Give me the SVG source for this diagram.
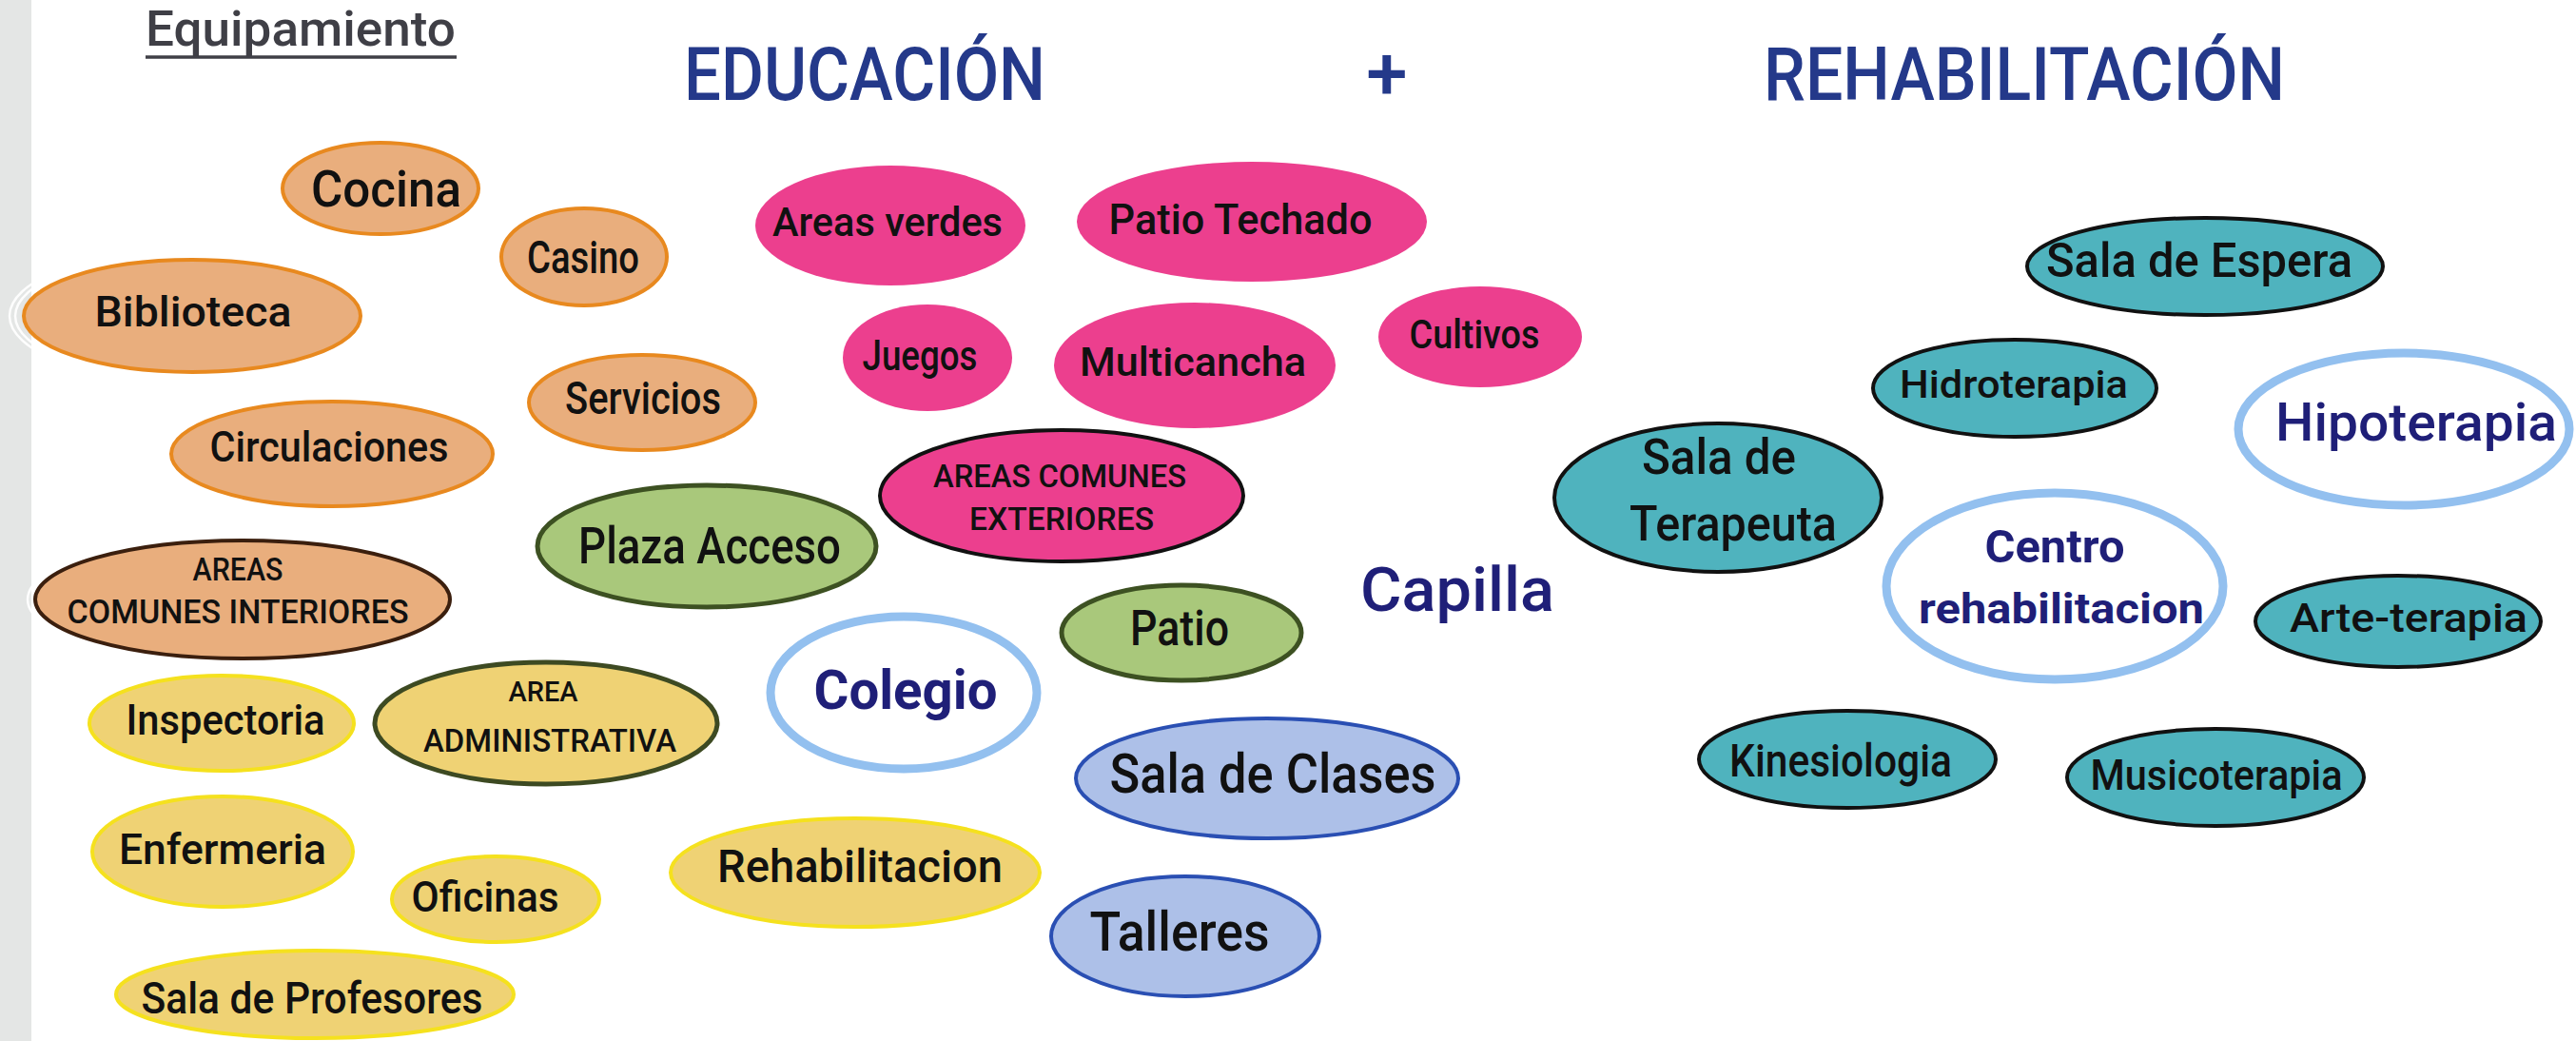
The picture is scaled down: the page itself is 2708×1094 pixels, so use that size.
<svg xmlns="http://www.w3.org/2000/svg" width="2708" height="1094" viewBox="0 0 2708 1094">
<style>
.orange{fill:#e9ae7d;stroke:#e8891f;stroke-width:4}
.orangeDk{fill:#e9ae7d;stroke:#3b1f0e;stroke-width:4}
.pink{fill:#ec3f8e}
.pinkDk{fill:#ec3f8e;stroke:#111;stroke-width:4}
.green{fill:#a9c87b;stroke:#3d5122;stroke-width:5}
.yellow{fill:#efd274;stroke:#f5e11e;stroke-width:4}
.yellowDk{fill:#efd274;stroke:#3d4a22;stroke-width:5}
.blue{fill:#adc0e8;stroke:#2a4fb3;stroke-width:4}
.teal{fill:#4fb3be;stroke:#111;stroke-width:4}
.ring{fill:#fff;stroke:#93c0ef;stroke-width:9}
.halo{fill:none;stroke:#ffffff;stroke-width:2.5;opacity:0.9}
.lbl{font-family:Roboto,"Liberation Sans",sans-serif;font-weight:500;fill:#111;text-anchor:middle}
.navy{fill:#1f1f78;font-weight:700}
.navyN{fill:#1f1f78;font-weight:500}
.title{font-family:Roboto,"Liberation Sans",sans-serif;font-weight:500;fill:#24398a;text-anchor:middle}
</style>
<defs>
<clipPath id="barClip"><rect x="0" y="0" width="33" height="1094"/></clipPath>
</defs>
<rect x="0" y="0" width="2708" height="1094" fill="#ffffff"/>
<rect x="0" y="0" width="33" height="1094" fill="#e4e6e5"/>
<g clip-path="url(#barClip)">
<ellipse class="halo" cx="202" cy="332" rx="186" ry="66"/>
<ellipse class="halo" cx="202" cy="332" rx="192" ry="70"/>
<ellipse class="halo" cx="255" cy="630" rx="226" ry="68"/>
</g>

<g id="header">
<text class="lbl" x="316" y="48" font-size="52" textLength="326" lengthAdjust="spacingAndGlyphs" style="fill:#3f3f46;font-weight:500">Equipamiento</text>
<line x1="153" y1="60" x2="480" y2="60" stroke="#3f3f46" stroke-width="3.5"/>
<text class="title" x="909" y="105" font-size="77" textLength="380" lengthAdjust="spacingAndGlyphs">EDUCACIÓN</text>
<text class="title" x="1458" y="104" font-size="78">+</text>
<text class="title" x="2128" y="105" font-size="77" textLength="548" lengthAdjust="spacingAndGlyphs">REHABILITACIÓN</text>
</g>

<g id="connectors"></g>

<g id="cocina"><ellipse class="orange" cx="400" cy="198" rx="103" ry="48"/><text class="lbl" x="406" y="217" font-size="54" textLength="158" lengthAdjust="spacingAndGlyphs">Cocina</text></g>
<g id="casino"><ellipse class="orange" cx="614" cy="270" rx="87" ry="51"/><text class="lbl" x="613" y="287" font-size="49" textLength="118" lengthAdjust="spacingAndGlyphs">Casino</text></g>
<g id="biblioteca"><ellipse class="orange" cx="202" cy="332" rx="177" ry="59"/><text class="lbl" x="203" y="343" font-size="44" textLength="207" lengthAdjust="spacingAndGlyphs">Biblioteca</text></g>
<g id="servicios"><ellipse class="orange" cx="675" cy="423" rx="119" ry="50"/><text class="lbl" x="676" y="435" font-size="49" textLength="164" lengthAdjust="spacingAndGlyphs">Servicios</text></g>
<g id="circulaciones"><ellipse class="orange" cx="349" cy="477" rx="169" ry="55"/><text class="lbl" x="346" y="485" font-size="45" textLength="251" lengthAdjust="spacingAndGlyphs">Circulaciones</text></g>
<g id="plaza-acceso"><ellipse class="green" cx="743" cy="574" rx="178" ry="64"/><text class="lbl" x="746" y="592" font-size="54" textLength="276" lengthAdjust="spacingAndGlyphs">Plaza Acceso</text></g>
<g id="areas-comunes-interiores"><ellipse class="orangeDk" cx="255" cy="630" rx="218" ry="62"/><text class="lbl" x="250" y="610" font-size="33" textLength="95" lengthAdjust="spacingAndGlyphs">AREAS</text><text class="lbl" x="250" y="655" font-size="35" textLength="359" lengthAdjust="spacingAndGlyphs">COMUNES INTERIORES</text></g>
<g id="inspectoria"><ellipse class="yellow" cx="233" cy="760" rx="139" ry="50"/><text class="lbl" x="237" y="772" font-size="45" textLength="209" lengthAdjust="spacingAndGlyphs">Inspectoria</text></g>
<g id="area-administrativa"><ellipse class="yellowDk" cx="574" cy="760" rx="180" ry="64"/><text class="lbl" x="571" y="737" font-size="30" textLength="73" lengthAdjust="spacingAndGlyphs">AREA</text><text class="lbl" x="578" y="790" font-size="34" textLength="266" lengthAdjust="spacingAndGlyphs">ADMINISTRATIVA</text></g>
<g id="enfermeria"><ellipse class="yellow" cx="234" cy="895" rx="137" ry="58"/><text class="lbl" x="234" y="908" font-size="45" textLength="218" lengthAdjust="spacingAndGlyphs">Enfermeria</text></g>
<g id="oficinas"><ellipse class="yellow" cx="521" cy="945" rx="109" ry="45"/><text class="lbl" x="510" y="958" font-size="45" textLength="155" lengthAdjust="spacingAndGlyphs">Oficinas</text></g>
<g id="sala-profesores"><ellipse class="yellow" cx="331" cy="1045" rx="209" ry="46"/><text class="lbl" x="328" y="1065" font-size="47" textLength="359" lengthAdjust="spacingAndGlyphs">Sala de Profesores</text></g>
<g id="rehabilitacion-edu"><ellipse class="yellow" cx="899" cy="917" rx="194" ry="57"/><text class="lbl" x="904" y="927" font-size="48" textLength="300" lengthAdjust="spacingAndGlyphs">Rehabilitacion</text></g>

<g id="areas-verdes"><ellipse class="pink" cx="936" cy="237" rx="142" ry="63"/><text class="lbl" x="933" y="248" font-size="42" textLength="242" lengthAdjust="spacingAndGlyphs">Areas verdes</text></g>
<g id="patio-techado"><ellipse class="pink" cx="1316" cy="233" rx="184" ry="63"/><text class="lbl" x="1304" y="246" font-size="45" textLength="277" lengthAdjust="spacingAndGlyphs">Patio Techado</text></g>
<g id="juegos"><ellipse class="pink" cx="975" cy="376" rx="89" ry="56"/><text class="lbl" x="967" y="389" font-size="45" textLength="121" lengthAdjust="spacingAndGlyphs">Juegos</text></g>
<g id="multicancha"><ellipse class="pink" cx="1256" cy="384" rx="148" ry="66"/><text class="lbl" x="1254" y="395" font-size="43" textLength="238" lengthAdjust="spacingAndGlyphs">Multicancha</text></g>
<g id="cultivos"><ellipse class="pink" cx="1556" cy="354" rx="107" ry="53"/><text class="lbl" x="1550" y="366" font-size="42" textLength="137" lengthAdjust="spacingAndGlyphs">Cultivos</text></g>
<g id="areas-comunes-exteriores"><ellipse class="pinkDk" cx="1116" cy="521" rx="191" ry="69"/><text class="lbl" x="1114" y="512" font-size="33" textLength="266" lengthAdjust="spacingAndGlyphs">AREAS COMUNES</text><text class="lbl" x="1116" y="557" font-size="33" textLength="194" lengthAdjust="spacingAndGlyphs">EXTERIORES</text></g>

<g id="colegio"><ellipse class="ring" cx="950" cy="728" rx="140" ry="80"/><text class="lbl navy" x="952" y="745" font-size="58" textLength="193" lengthAdjust="spacingAndGlyphs">Colegio</text></g>
<g id="patio"><ellipse class="green" cx="1242" cy="665" rx="126" ry="50"/><text class="lbl" x="1240" y="678" font-size="51" textLength="104" lengthAdjust="spacingAndGlyphs">Patio</text></g>
<g id="capilla"><text class="lbl navyN" x="1532" y="642" font-size="64" textLength="204" lengthAdjust="spacingAndGlyphs">Capilla</text></g>
<g id="sala-clases"><ellipse class="blue" cx="1332" cy="818" rx="201" ry="63"/><text class="lbl" x="1338" y="833" font-size="58" textLength="343" lengthAdjust="spacingAndGlyphs">Sala de Clases</text></g>
<g id="talleres"><ellipse class="blue" cx="1246" cy="984" rx="141" ry="63"/><text class="lbl" x="1240" y="999" font-size="58" textLength="189" lengthAdjust="spacingAndGlyphs">Talleres</text></g>

<g id="sala-espera"><ellipse class="teal" cx="2318" cy="280" rx="187" ry="51"/><text class="lbl" x="2312" y="291" font-size="50" textLength="322" lengthAdjust="spacingAndGlyphs">Sala de Espera</text></g>
<g id="hidroterapia"><ellipse class="teal" cx="2118" cy="408" rx="149" ry="51"/><text class="lbl" x="2117" y="418" font-size="41" textLength="240" lengthAdjust="spacingAndGlyphs">Hidroterapia</text></g>
<g id="hipoterapia"><ellipse class="ring" cx="2527" cy="451" rx="174" ry="80"/><text class="lbl navyN" x="2540" y="463" font-size="56" textLength="296" lengthAdjust="spacingAndGlyphs">Hipoterapia</text></g>
<g id="sala-terapeuta"><ellipse class="teal" cx="1806" cy="523" rx="172" ry="78"/><text class="lbl" x="1807" y="498" font-size="52" textLength="162" lengthAdjust="spacingAndGlyphs">Sala de</text><text class="lbl" x="1822" y="568" font-size="52" textLength="218" lengthAdjust="spacingAndGlyphs">Terapeuta</text></g>
<g id="centro-rehabilitacion"><ellipse class="ring" cx="2160" cy="616" rx="177" ry="98"/><text class="lbl navy" x="2160" y="591" font-size="49" textLength="147" lengthAdjust="spacingAndGlyphs">Centro</text><text class="lbl navy" x="2167" y="655" font-size="44" textLength="300" lengthAdjust="spacingAndGlyphs">rehabilitacion</text></g>
<g id="arte-terapia"><ellipse class="teal" cx="2521" cy="653" rx="150" ry="48"/><text class="lbl" x="2532" y="664" font-size="43" textLength="250" lengthAdjust="spacingAndGlyphs">Arte-terapia</text></g>
<g id="kinesiologia"><ellipse class="teal" cx="1942" cy="798" rx="156" ry="51"/><text class="lbl" x="1935" y="816" font-size="49" textLength="234" lengthAdjust="spacingAndGlyphs">Kinesiologia</text></g>
<g id="musicoterapia"><ellipse class="teal" cx="2329" cy="817" rx="156" ry="51"/><text class="lbl" x="2330" y="830" font-size="45" textLength="265" lengthAdjust="spacingAndGlyphs">Musicoterapia</text></g>
</svg>
